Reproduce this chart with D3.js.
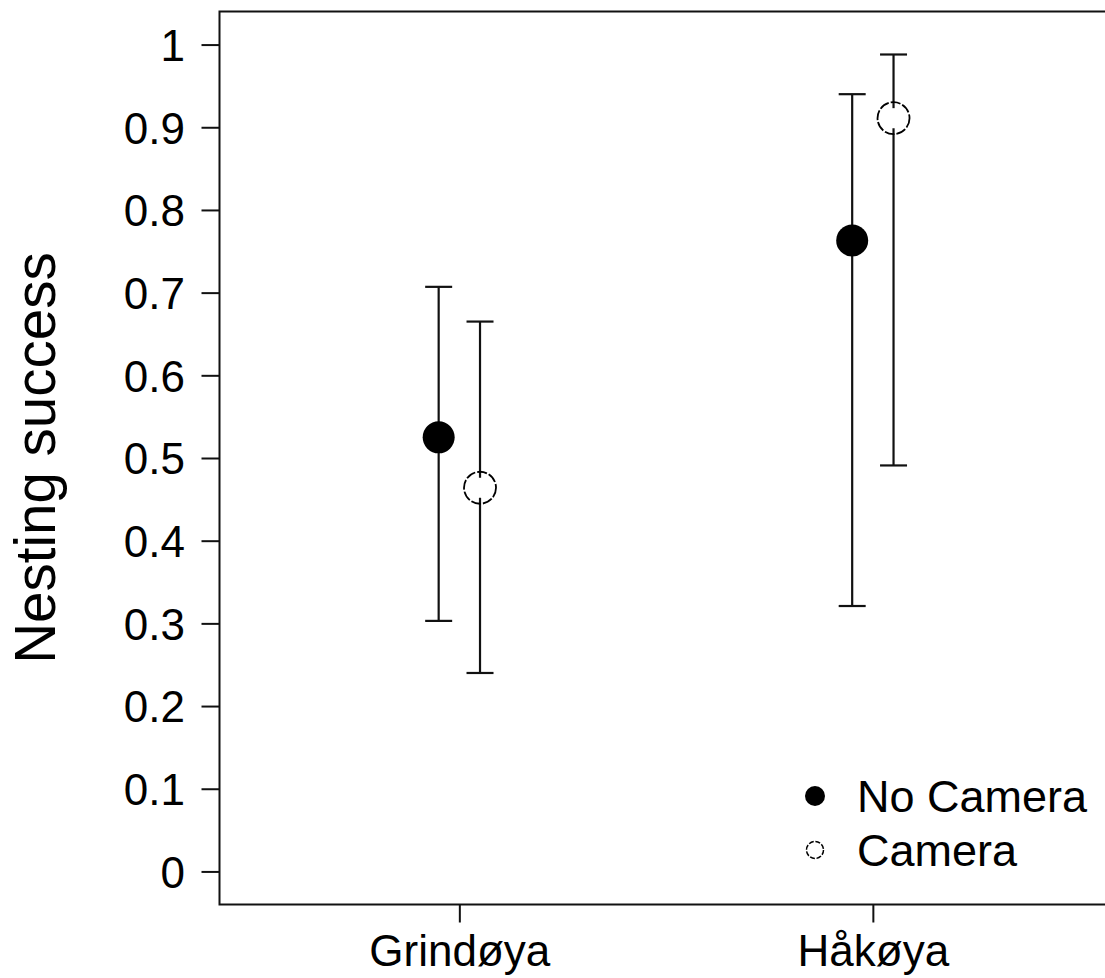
<!DOCTYPE html>
<html>
<head>
<meta charset="utf-8">
<script src="https://cdn.jsdelivr.net/npm/d3@7"></script>
<style>
  html, body { margin: 0; padding: 0; background: #fff; }
  svg { display: block; }
  text { font-family: "Liberation Sans", Arial, sans-serif; fill: #000; }
</style>
</head>
<body>
<svg id="chart" width="1105" height="978"></svg>
<script>
// Nesting success by island, with and without camera monitoring
const sites = ["Grindøya", "Håkøya"];
const groups = ["No Camera", "Camera"];
const noCameraMean = [0.525, 0.763];
const noCameraLower = [0.303, 0.321];
const noCameraUpper = [0.707, 0.940];
const cameraMean = [0.464, 0.911];
const cameraLower = [0.240, 0.491];
const cameraUpper = [0.665, 0.988];
const yTickValues = [0, 0.1, 0.2, 0.3, 0.4, 0.5, 0.6, 0.7, 0.8, 0.9, 1];
const yTickLabels = ["0", "0.1", "0.2", "0.3", "0.4", "0.5", "0.6", "0.7", "0.8", "0.9", "1"];

const svg = d3.select("#chart");

// plotting region (site positions 1 and 2, padded on both sides)
const x = d3.scaleLinear().domain([0.42, 2.58]).range([219.5, 1112.7]);
const y = d3.scaleLinear().domain([-0.04, 1.04]).range([904.5, 11.5]);
const dodge = 0.05;

// frame around the plot
svg.append("rect")
  .attr("x", x(0.42)).attr("y", y(1.04))
  .attr("width", x(2.58) - x(0.42)).attr("height", y(-0.04) - y(1.04))
  .attr("fill", "none").attr("stroke", "#111").attr("stroke-width", 2);

// y axis
const yAxis = d3.axisLeft(y)
  .tickValues(yTickValues)
  .tickFormat((d, i) => yTickLabels[i])
  .tickSize(18).tickPadding(16.5);
const gy = svg.append("g").attr("transform", `translate(${x(0.42)},0)`).call(yAxis);
gy.select(".domain").remove();
gy.selectAll(".tick line").attr("stroke", "#111").attr("stroke-width", 2);
gy.selectAll(".tick text").attr("font-size", 44).attr("dy", "0.36em")
  .attr("font-family", "'Liberation Sans', Arial, sans-serif").attr("fill", "#000");

// x axis
const xAxis = d3.axisBottom(x)
  .tickValues([1, 2])
  .tickFormat((d, i) => sites[i])
  .tickSize(18).tickPadding(12);
const gx = svg.append("g").attr("transform", `translate(0,${y(-0.04)})`).call(xAxis);
gx.select(".domain").remove();
gx.selectAll(".tick line").attr("stroke", "#111").attr("stroke-width", 2);
gx.selectAll(".tick text").attr("font-size", 44)
  .attr("font-family", "'Liberation Sans', Arial, sans-serif").attr("fill", "#000");

// y axis title
svg.append("text")
  .attr("transform", `translate(55,${y(0.5)}) rotate(-90)`)
  .attr("text-anchor", "middle")
  .attr("font-size", 56.5)
  .text("Nesting success");

// build rows for both groups
const rows = [];
sites.forEach((s, i) => {
  rows.push({ site: i + 1, offset: -dodge, mean: noCameraMean[i], lo: noCameraLower[i], hi: noCameraUpper[i], filled: true });
  rows.push({ site: i + 1, offset: dodge, mean: cameraMean[i], lo: cameraLower[i], hi: cameraUpper[i], filled: false });
});

const gap = 10;      // gap in the error bar around each point (px)
const capHalf = 13.5;
const radius = 16;

const bars = svg.append("g").attr("stroke", "#111").attr("stroke-width", 2.2);
rows.forEach(r => {
  const cx = x(r.site + r.offset);
  bars.append("line").attr("x1", cx).attr("x2", cx).attr("y1", y(r.hi)).attr("y2", y(r.mean) - gap);
  bars.append("line").attr("x1", cx).attr("x2", cx).attr("y1", y(r.mean) + gap).attr("y2", y(r.lo));
  bars.append("line").attr("x1", cx - capHalf).attr("x2", cx + capHalf).attr("y1", y(r.hi)).attr("y2", y(r.hi));
  bars.append("line").attr("x1", cx - capHalf).attr("x2", cx + capHalf).attr("y1", y(r.lo)).attr("y2", y(r.lo));
});

svg.append("g").selectAll("circle").data(rows).join("circle")
  .attr("cx", d => x(d.site + d.offset))
  .attr("cy", d => y(d.mean))
  .attr("r", radius)
  .attr("fill", d => d.filled ? "#000" : "none")
  .attr("stroke", "#000")
  .attr("stroke-width", d => d.filled ? 0 : 1.8)
  .attr("stroke-dasharray", d => d.filled ? null : "10 2");

// legend
const legend = svg.append("g").attr("transform", "translate(815,796)");
groups.forEach((g, i) => {
  const row = legend.append("g").attr("transform", `translate(0,${i * 54})`);
  row.append("circle").attr("r", i === 0 ? 10 : 8.5)
    .attr("fill", i === 0 ? "#000" : "none")
    .attr("stroke", "#000")
    .attr("stroke-width", i === 0 ? 0 : 1.5)
    .attr("stroke-dasharray", i === 0 ? null : "5 1.7");
  row.append("text").attr("x", 42).attr("y", 16).attr("font-size", 45).text(g);
});
</script>
</body>
</html>
